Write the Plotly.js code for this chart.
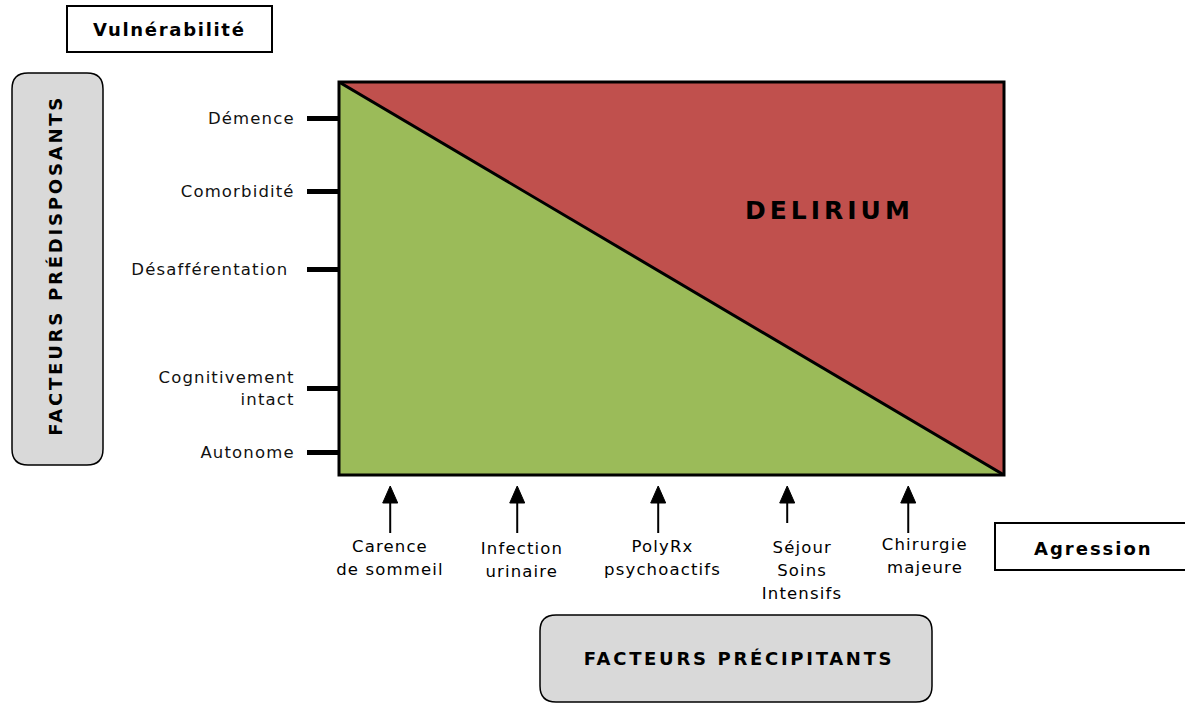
<!DOCTYPE html>
<html>
<head>
<meta charset="utf-8">
<script src="https://cdn.plot.ly/plotly-3.0.1.min.js"></script>
<style>
html,body{margin:0;padding:0;background:#fff;}
#chart{width:1185px;height:704px;}
.ytick text{letter-spacing:1.15px;}
</style>
</head>
<body>
<div id="chart"></div>
<script>
// ---- Données ----
// Facteurs prédisposants (axe vertical : vulnérabilité, échelle 0–10)
const predisposants = ['Démence', 'Comorbidité', 'Désafférentation ', 'Cognitivement<br>intact', 'Autonome'];
const vulnerabilite = [9.08, 7.21, 5.24, 2.21, 0.57];

// Facteurs précipitants (axe horizontal : agression, échelle 0–10)
const precipitants = ['Carence<br>de sommeil', 'Infection<br>urinaire', 'PolyRx<br>psychoactifs', 'Séjour<br>Soins<br>Intensifs', 'Chirurgie<br>majeure'];
const agression = [0.77, 2.68, 4.80, 6.74, 8.56];

// Seuil du délirium (diagonale)
const seuilX = [0, 10];
const seuilY = [10, 0];
const axisRange = [0, 10];

// ---- Mise en page ----
const W = 1185, H = 704;
const PL = 339, PR = 1004, PT = 82, PB = 475;   // zone de tracé (px)
const FONT = 'DejaVu Sans, Verdana, sans-serif';
const GREEN = '#9BBB59', RED = '#C0504D', GRAY = '#D9D9D9';

const fx = x => (x - PL) / (PR - PL);      // px -> paper x
const fy = y => (PB - y) / (PB - PT);      // px -> paper y
const ox = x => (x - PL);                  // px -> pixel offset from paper 0
const oy = y => (PB - y);                  // px -> pixel offset (up) from paper 0

function roundRectPath(x0, y0, x1, y1, r) {
  const P = (x, y) => ox(x) + ',' + oy(y);
  return 'M' + P(x0 + r, y0) + ' L' + P(x1 - r, y0) + ' Q' + P(x1, y0) + ' ' + P(x1, y0 + r) +
         ' L' + P(x1, y1 - r) + ' Q' + P(x1, y1) + ' ' + P(x1 - r, y1) +
         ' L' + P(x0 + r, y1) + ' Q' + P(x0, y1) + ' ' + P(x0, y1 - r) +
         ' L' + P(x0, y0 + r) + ' Q' + P(x0, y0) + ' ' + P(x0 + r, y0) + ' Z';
}
function pixelShape(path, fill, lw) {
  return {type: 'path', xref: 'paper', yref: 'paper', xsizemode: 'pixel', ysizemode: 'pixel',
          xanchor: 0, yanchor: 0, path: path, fillcolor: fill,
          line: {color: '#000', width: lw}, layer: 'above'};
}

// ---- Traces ----
const traces = [
  { // zone verte (sous le seuil)
    x: [seuilX[0], seuilX[1], seuilX[0]], y: [seuilY[0], seuilY[1], seuilY[1]],
    mode: 'lines', fill: 'toself', fillcolor: GREEN, line: {width: 0, color: GREEN},
    hoverinfo: 'skip', showlegend: false
  },
  { // zone rouge (délirium)
    x: [seuilX[0], seuilX[1], seuilX[1]], y: [seuilY[0], seuilY[1], seuilY[0]],
    mode: 'lines', fill: 'toself', fillcolor: RED, line: {width: 0, color: RED},
    hoverinfo: 'skip', showlegend: false
  },
  { // diagonale
    x: seuilX, y: seuilY, mode: 'lines', line: {color: '#000', width: 3},
    hoverinfo: 'skip', showlegend: false
  }
];

// ---- Formes ----
const shapes = [];
// cadre
shapes.push({type: 'rect', xref: 'paper', yref: 'paper', x0: 0, x1: 1, y0: 0, y1: 1,
             line: {color: '#000', width: 3}, layer: 'above'});
// flèches des facteurs précipitants
const arrowLen = [58, 58, 58, 48, 58];
agression.forEach((v, i) => {
  shapes.push({type: 'path', xref: 'x', yref: 'paper', xsizemode: 'pixel', ysizemode: 'pixel',
               xanchor: v, yanchor: 0, path: 'M0,-11 L-7.5,-28 L7.5,-28 Z',
               fillcolor: '#000', line: {color: '#000', width: 1}, layer: 'above'});
  shapes.push({type: 'path', xref: 'x', yref: 'paper', xsizemode: 'pixel', ysizemode: 'pixel',
               xanchor: v, yanchor: 0, path: 'M0,-26 L0,-' + arrowLen[i],
               line: {color: '#000', width: 2}, layer: 'above'});
});
// encadrés
shapes.push(pixelShape('M' + ox(67) + ',' + oy(6) + ' L' + ox(272) + ',' + oy(6) + ' L' + ox(272) + ',' + oy(52) + ' L' + ox(67) + ',' + oy(52) + ' Z', '#fff', 2));
shapes.push(pixelShape('M' + ox(995) + ',' + oy(523) + ' L' + ox(1195) + ',' + oy(523) + ' L' + ox(1195) + ',' + oy(570) + ' L' + ox(995) + ',' + oy(570) + ' Z', '#fff', 2));
shapes.push(pixelShape(roundRectPath(12, 73, 103, 465, 16), GRAY, 1.5));
shapes.push(pixelShape(roundRectPath(540, 615, 932, 702, 16), GRAY, 1.5));

// ---- Annotations ----
const annotations = [];
const annLS = [];
function addText(text, px, py, size, bold, ls, angle) {
  annotations.push({text: text, xref: 'paper', yref: 'paper', x: fx(px), y: fy(py),
                    xanchor: 'center', yanchor: 'middle', showarrow: false, borderpad: 0,
                    textangle: angle || 0,
                    font: {family: FONT, size: size, color: '#000', weight: bold ? 'bold' : 'normal'}});
  annLS.push(ls);
}
addText('Vulnérabilité', 169, 30, 18, true, 1.7);
addText('Agression', 1093, 548, 18, true, 2.0);
addText('FACTEURS PRÉDISPOSANTS', 55, 266, 18, true, 2.8, -90);
addText('FACTEURS PRÉCIPITANTS', 739, 658, 18, true, 2.7);
addText('DELIRIUM', 829, 210, 25, true, 4);

// étiquettes des facteurs précipitants (une annotation par ligne)
const labelShift = [0, 5, 4, 15, 17];
const firstLine = [546, 548, 546, 547, 544];
precipitants.forEach((lab, i) => {
  lab.split('<br>').forEach((line, k) => {
    annotations.push({text: line, xref: 'x', yref: 'paper', x: agression[i], y: 0,
                      xshift: labelShift[i], yshift: -(firstLine[i] + 23 * k - PB),
                      xanchor: 'center', yanchor: 'middle', showarrow: false, borderpad: 0,
                      font: {family: FONT, size: 16.5, color: '#000'}});
    annLS.push(1.15);
  });
});

// letter-spacing par annotation
const css = annLS.map((ls, i) => '.annotation[data-index="' + i + '"] text{letter-spacing:' + ls + 'px;}').join('\n');
const st = document.createElement('style');
st.textContent = css;
document.head.appendChild(st);

const layout = {
  width: W, height: H,
  margin: {l: PL, r: W - PR, t: PT, b: H - PB, pad: 0},
  paper_bgcolor: '#fff', plot_bgcolor: '#fff',
  showlegend: false,
  xaxis: {range: axisRange, showgrid: false, zeroline: false, showticklabels: false,
          ticks: '', showline: false, fixedrange: true},
  yaxis: {range: axisRange, showgrid: false, zeroline: false, showline: false,
          tickmode: 'array', tickvals: vulnerabilite, ticktext: predisposants,
          ticks: 'outside', ticklen: 31, tickwidth: 5, tickcolor: '#000',
          ticklabelstandoff: 9,
          tickfont: {family: FONT, size: 16.5, color: '#111'}, fixedrange: true},
  shapes: shapes,
  annotations: annotations
};

Plotly.newPlot('chart', traces, layout, {displayModeBar: false, staticPlot: true});
</script>
</body>
</html>
